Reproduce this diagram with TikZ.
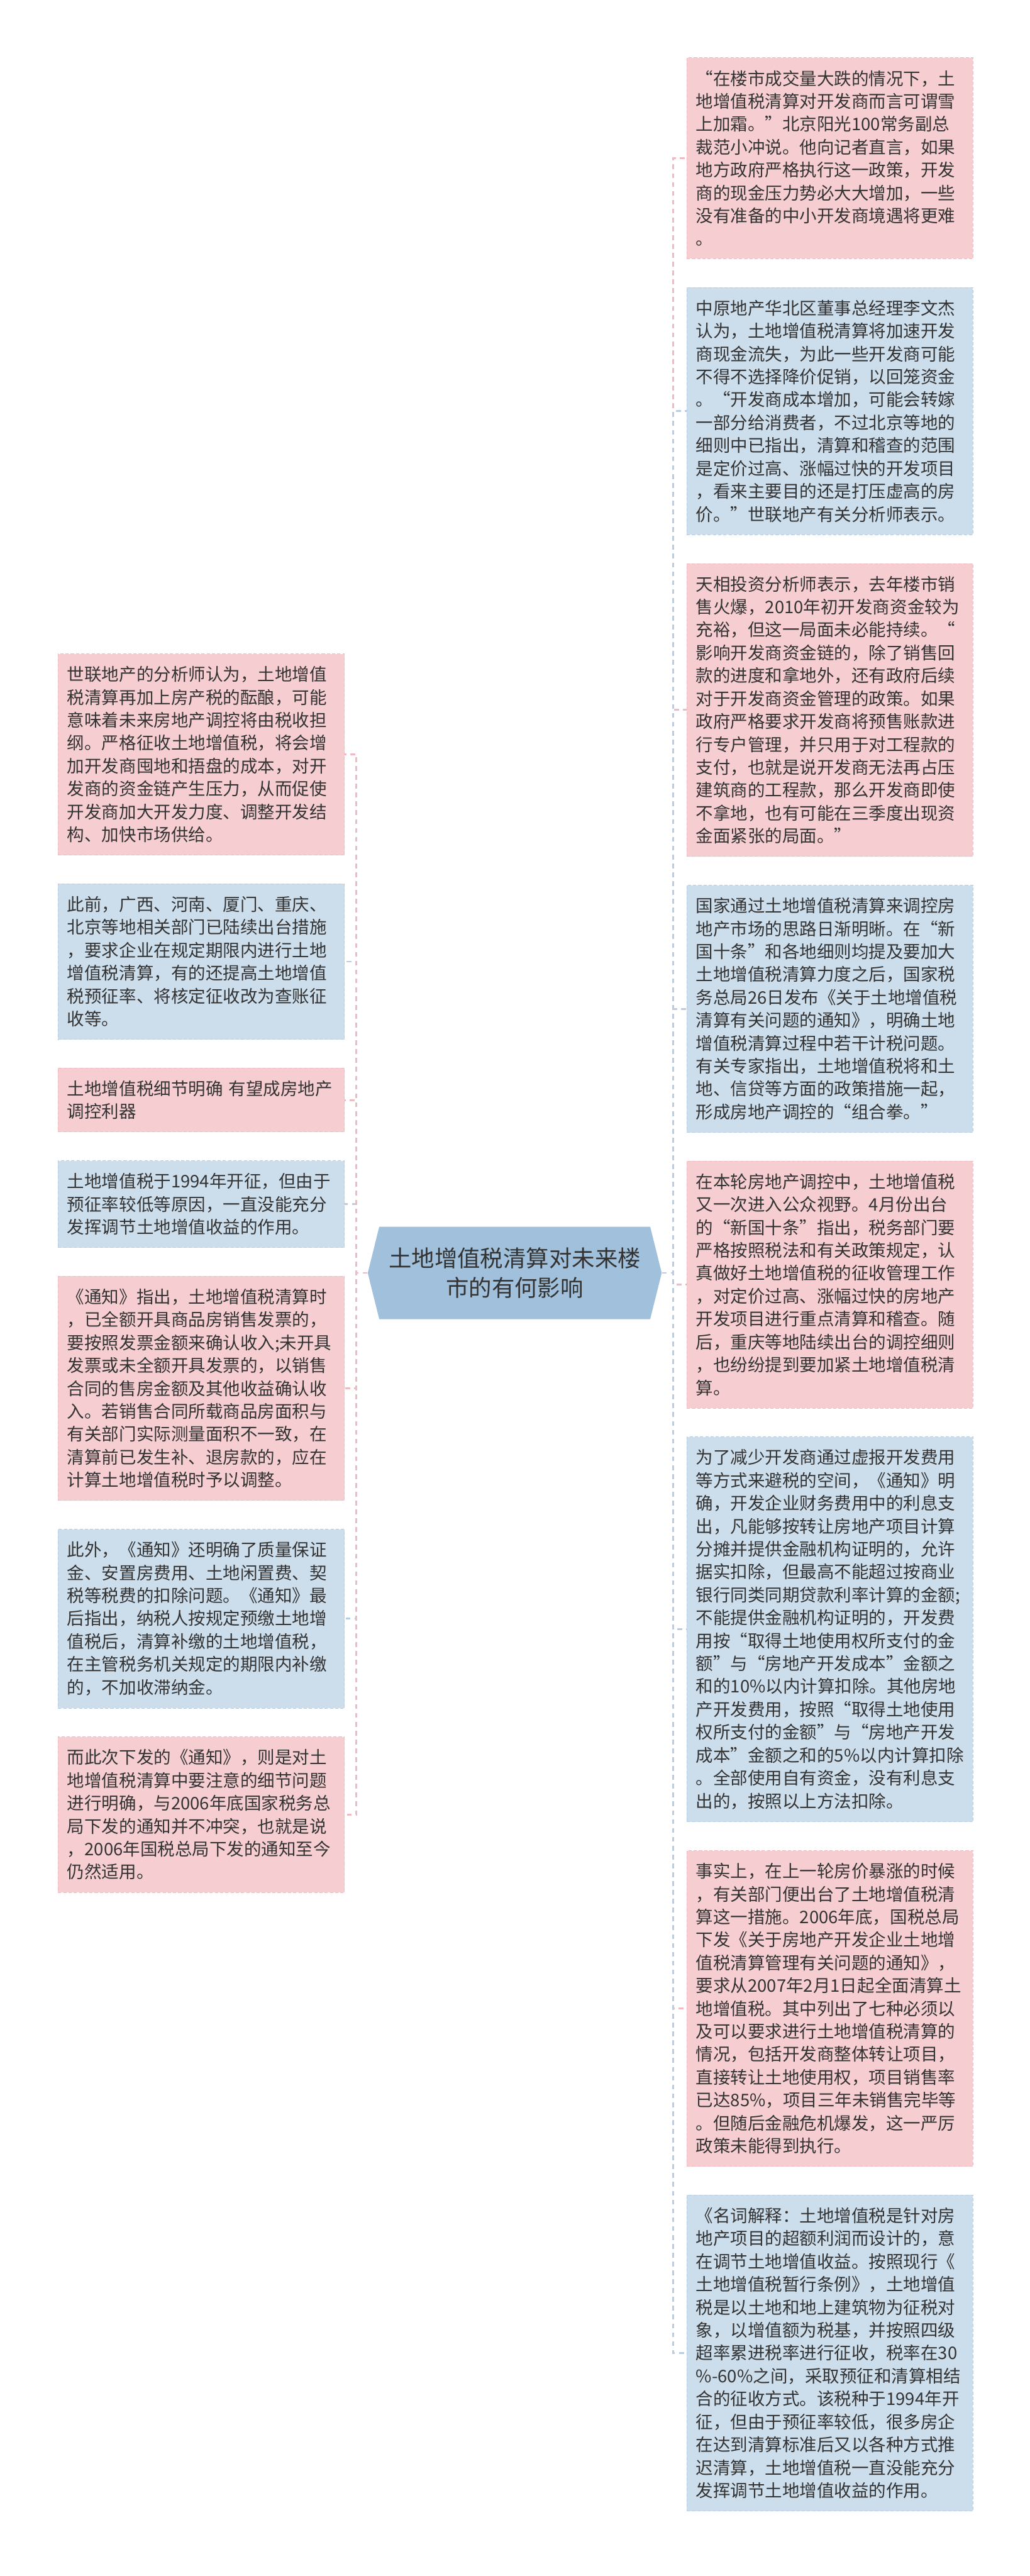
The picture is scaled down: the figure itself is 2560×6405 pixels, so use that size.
\documentclass[tikz,border=0pt]{standalone}
\usepackage{fontspec}
\newfontfamily\cjk{Noto Sans CJK SC}
\usetikzlibrary{positioning,shapes.symbols}
\definecolor{pinkfill}{RGB}{246,206,209}
\definecolor{pinkedge}{RGB}{239,186,192}
\definecolor{bluefill}{RGB}{204,221,236}
\definecolor{blueedge}{RGB}{184,205,226}
\definecolor{rootfill}{RGB}{160,192,219}
\definecolor{ink}{RGB}{51,51,51}

\begin{document}
\begin{tikzpicture}[
  x=0.1mm, y=-0.1mm,
  node distance=7mm,
  txt/.style={font=\cjk\fontsize{12.24pt}{16.2pt}\selectfont,text=ink,align=left,
    text width=66.6mm,inner xsep=2.3mm,inner ysep=3.1mm},
  pinkbox/.style={txt,fill=pinkfill,draw=pinkedge,line width=0.15mm,dash pattern=on 0.8mm off 0.5mm},
  bluebox/.style={txt,fill=bluefill,draw=blueedge,line width=0.15mm,dash pattern=on 0.8mm off 0.5mm},
  root/.style={signal,signal to=west and east,signal pointer angle=152,fill=rootfill,
    font=\cjk\fontsize{16.2pt}{21pt}\selectfont,text=ink,align=center,
    minimum width=73.1mm,minimum height=23mm,inner sep=0pt},
  pinklink/.style={draw=pinkedge,line width=0.45mm,dash pattern=on 1.2mm off 1mm},
  bluelink/.style={draw=blueedge,line width=0.45mm,dash pattern=on 1.2mm off 1mm}
]
\useasboundingbox (0,0) rectangle (2560,6405);
% centre
\node[root] (C) at (1280,3165) {土地增值税清算对未来楼\\市的有何影响};
% right column
\node[pinkbox,anchor=north west] (R1) at (1707,143) {“在楼市成交量大跌的情况下，土\\
地增值税清算对开发商而言可谓雪\\
上加霜。”北京阳光100常务副总\\
裁范小冲说。他向记者直言，如果\\
地方政府严格执行这一政策，开发\\
商的现金压力势必大大增加，一些\\
没有准备的中小开发商境遇将更难\\
。};
\node[bluebox,below=of R1] (R2) {中原地产华北区董事总经理李文杰\\
认为，土地增值税清算将加速开发\\
商现金流失，为此一些开发商可能\\
不得不选择降价促销，以回笼资金\\
。“开发商成本增加，可能会转嫁\\
一部分给消费者，不过北京等地的\\
细则中已指出，清算和稽查的范围\\
是定价过高、涨幅过快的开发项目\\
，看来主要目的还是打压虚高的房\\
价。”世联地产有关分析师表示。};
\node[pinkbox,below=of R2] (R3) {天相投资分析师表示，去年楼市销\\
售火爆，2010年初开发商资金较为\\
充裕，但这一局面未必能持续。“\\
影响开发商资金链的，除了销售回\\
款的进度和拿地外，还有政府后续\\
对于开发商资金管理的政策。如果\\
政府严格要求开发商将预售账款进\\
行专户管理，并只用于对工程款的\\
支付，也就是说开发商无法再占压\\
建筑商的工程款，那么开发商即使\\
不拿地，也有可能在三季度出现资\\
金面紧张的局面。”};
\node[bluebox,below=of R3] (R4) {国家通过土地增值税清算来调控房\\
地产市场的思路日渐明晰。在“新\\
国十条”和各地细则均提及要加大\\
土地增值税清算力度之后，国家税\\
务总局26日发布《关于土地增值税\\
清算有关问题的通知》，明确土地\\
增值税清算过程中若干计税问题。\\
有关专家指出，土地增值税将和土\\
地、信贷等方面的政策措施一起，\\
形成房地产调控的“组合拳。”};
\node[pinkbox,below=of R4] (R5) {在本轮房地产调控中，土地增值税\\
又一次进入公众视野。4月份出台\\
的“新国十条”指出，税务部门要\\
严格按照税法和有关政策规定，认\\
真做好土地增值税的征收管理工作\\
，对定价过高、涨幅过快的房地产\\
开发项目进行重点清算和稽查。随\\
后，重庆等地陆续出台的调控细则\\
，也纷纷提到要加紧土地增值税清\\
算。};
\node[bluebox,below=of R5] (R6) {为了减少开发商通过虚报开发费用\\
等方式来避税的空间，《通知》明\\
确，开发企业财务费用中的利息支\\
出，凡能够按转让房地产项目计算\\
分摊并提供金融机构证明的，允许\\
据实扣除，但最高不能超过按商业\\
银行同类同期贷款利率计算的金额;\\
不能提供金融机构证明的，开发费\\
用按“取得土地使用权所支付的金\\
额”与“房地产开发成本”金额之\\
和的10\%以内计算扣除。其他房地\\
产开发费用，按照“取得土地使用\\
权所支付的金额”与“房地产开发\\
成本”金额之和的5\%以内计算扣除\\
。全部使用自有资金，没有利息支\\
出的，按照以上方法扣除。};
\node[pinkbox,below=of R6] (R7) {事实上，在上一轮房价暴涨的时候\\
，有关部门便出台了土地增值税清\\
算这一措施。2006年底，国税总局\\
下发《关于房地产开发企业土地增\\
值税清算管理有关问题的通知》，\\
要求从2007年2月1日起全面清算土\\
地增值税。其中列出了七种必须以\\
及可以要求进行土地增值税清算的\\
情况，包括开发商整体转让项目，\\
直接转让土地使用权，项目销售率\\
已达85\%，项目三年未销售完毕等\\
。但随后金融危机爆发，这一严厉\\
政策未能得到执行。};
\node[bluebox,below=of R7] (R8) {《名词解释：土地增值税是针对房\\
地产项目的超额利润而设计的，意\\
在调节土地增值收益。按照现行《\\
土地增值税暂行条例》，土地增值\\
税是以土地和地上建筑物为征税对\\
象，以增值额为税基，并按照四级\\
超率累进税率进行征收，税率在30\\
\%-60\%之间，采取预征和清算相结\\
合的征收方式。该税种于1994年开\\
征，但由于预征率较低，很多房企\\
在达到清算标准后又以各种方式推\\
迟清算，土地增值税一直没能充分\\
发挥调节土地增值收益的作用。};
% left column
\node[pinkbox,anchor=north east] (L1) at (857,1625) {世联地产的分析师认为，土地增值\\
税清算再加上房产税的酝酿，可能\\
意味着未来房地产调控将由税收担\\
纲。严格征收土地增值税，将会增\\
加开发商囤地和捂盘的成本，对开\\
发商的资金链产生压力，从而促使\\
开发商加大开发力度、调整开发结\\
构、加快市场供给。};
\node[bluebox,below=of L1] (L2) {此前，广西、河南、厦门、重庆、\\
北京等地相关部门已陆续出台措施\\
，要求企业在规定期限内进行土地\\
增值税清算，有的还提高土地增值\\
税预征率、将核定征收改为查账征\\
收等。};
\node[pinkbox,below=of L2] (L3) {土地增值税细节明确~有望成房地产\\
调控利器};
\node[bluebox,below=of L3] (L4) {土地增值税于1994年开征，但由于\\
预征率较低等原因，一直没能充分\\
发挥调节土地增值收益的作用。};
\node[pinkbox,below=of L4] (L5) {《通知》指出，土地增值税清算时\\
，已全额开具商品房销售发票的，\\
要按照发票金额来确认收入;未开具\\
发票或未全额开具发票的，以销售\\
合同的售房金额及其他收益确认收\\
入。若销售合同所载商品房面积与\\
有关部门实际测量面积不一致，在\\
清算前已发生补、退房款的，应在\\
计算土地增值税时予以调整。};
\node[bluebox,below=of L5] (L6) {此外，《通知》还明确了质量保证\\
金、安置房费用、土地闲置费、契\\
税等税费的扣除问题。《通知》最\\
后指出，纳税人按规定预缴土地增\\
值税后，清算补缴的土地增值税，\\
在主管税务机关规定的期限内补缴\\
的，不加收滞纳金。};
\node[pinkbox,below=of L6] (L7) {而此次下发的《通知》，则是对土\\
地增值税清算中要注意的细节问题\\
进行明确，与2006年底国家税务总\\
局下发的通知并不冲突，也就是说\\
，2006年国税总局下发的通知至今\\
仍然适用。};
% links
\coordinate (lt) at (886,3165);
\coordinate (rt) at (1674,3165);
\foreach \n/\s in {L2/bluelink,L4/bluelink,L6/bluelink,L1/pinklink,L3/pinklink,L5/pinklink,L7/pinklink}
  \draw[\s] (C.west) -- (lt) |- (\n.east);
\foreach \n/\s in {R1/pinklink,R3/pinklink,R5/pinklink,R7/pinklink,R2/bluelink,R4/bluelink,R6/bluelink,R8/bluelink}
  \draw[\s] (C.east) -- (rt) |- (\n.west);
\end{tikzpicture}
\end{document}
